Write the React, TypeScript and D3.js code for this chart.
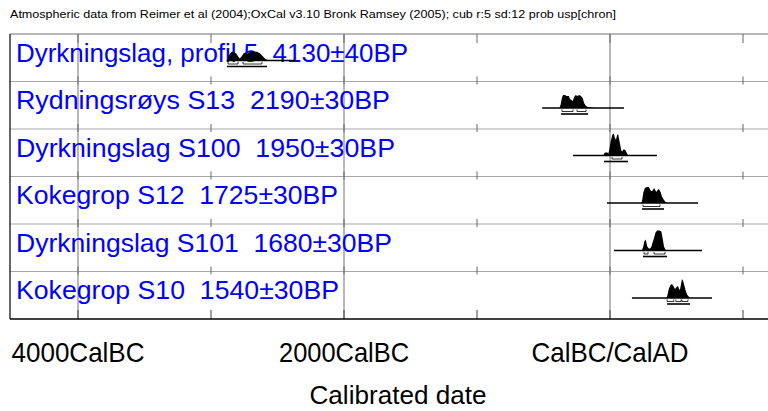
import React, { useEffect, useRef } from 'react';
import * as d3 from 'd3';

const title =
  'Atmospheric data from Reimer et al (2004);OxCal v3.10 Bronk Ramsey (2005); cub r:5 sd:12 prob usp[chron]';

const sampleLabels: string[] = [
  'Dyrkningslag, profil 5  4130±40BP',
  'Rydningsrøys S13  2190±30BP',
  'Dyrkningslag S100  1950±30BP',
  'Kokegrop S12  1725±30BP',
  'Dyrkningslag S101  1680±30BP',
  'Kokegrop S10  1540±30BP',
];

// plotted range of each sample (years, negative = BC)
const plotRanges: [number, number][] = [
  [-2880, -2370],
  [-510, 105],
  [-278, 353],
  [-23, 662],
  [30, 692],
  [165, 767],
];

// 68.2% ranges
const sigma1: [number, number][][] = [
  [[-2872, -2797], [-2759, -2617]],
  [[-361, -278], [-248, -180]],
  [[15, 90]],
  [[248, 376]],
  [[256, 286], [331, 414]],
  [[429, 480], [495, 535], [541, 586]],
];

// 95.4% ranges
const sigma2: [number, number][] = [
  [-2880, -2579],
  [-368, -165],
  [-45, 135],
  [241, 406],
  [248, 429],
  [429, 602],
];

// relative probability [year, prob]
const prob1: [number, number][] = [
  [-2885, 0], [-2872, 2], [-2862, 6], [-2850, 8], [-2838, 9], [-2824, 8], [-2810, 7],
  [-2796, 4], [-2784, 2], [-2770, 4], [-2756, 7], [-2742, 8], [-2728, 7], [-2714, 8],
  [-2700, 9], [-2686, 9], [-2672, 8], [-2658, 9], [-2644, 8], [-2630, 7], [-2616, 5],
  [-2602, 3], [-2590, 1.5], [-2575, 0.5], [-2560, 0],
];
const prob2: [number, number][] = [
  [-380, 0], [-372, 3], [-362, 10], [-353, 13], [-340, 13], [-325, 12], [-310, 12],
  [-300, 9], [-290, 8], [-280, 7], [-270, 11], [-258, 13], [-245, 12], [-232, 13],
  [-218, 12], [-205, 10], [-195, 5], [-180, 2], [-165, 1], [-140, 0.6], [-113, 0],
];
const prob3: [number, number][] = [
  [-50, 0], [-45, 2], [-35, 3], [-20, 3], [-12, 2], [-5, 6], [5, 14], [18, 21], [28, 22],
  [38, 17], [45, 16], [55, 21], [62, 21], [72, 14], [85, 5], [92, 4], [100, 6], [108, 6],
  [118, 5], [128, 2], [138, 0],
];
const prob4: [number, number][] = [
  [236, 0], [242, 3], [250, 10], [262, 15], [278, 16], [292, 16], [308, 12], [318, 12],
  [331, 15], [340, 13], [348, 11], [358, 13], [368, 14], [380, 11], [392, 6], [406, 3],
  [418, 1], [430, 0],
];
const prob5: [number, number][] = [
  [240, 0], [250, 4], [258, 9], [266, 11], [272, 9], [280, 4], [292, 2], [302, 2],
  [312, 4], [320, 8], [330, 12], [342, 18], [355, 20], [372, 20], [386, 19], [396, 12],
  [406, 4], [416, 1], [425, 0],
];
const prob6: [number, number][] = [
  [425, 0], [432, 3], [442, 9], [455, 13], [466, 14], [476, 12], [489, 9], [500, 11],
  [511, 12], [519, 9], [526, 8], [534, 14], [541, 19], [550, 17], [560, 12], [572, 6],
  [582, 3], [595, 1], [605, 0],
];
const probs = [prob1, prob2, prob3, prob4, prob5, prob6];

const tickYears: number[] = [-4000, -3000, -2000, -1000, 0, 1000];
const gridYears: number[] = [-4000, -2000, 0];
const gridLabels: string[] = ['4000CalBC', '2000CalBC', 'CalBC/CalAD'];
const axisTitle = 'Calibrated date';

const App = () => {
  const svgRef = useRef<SVGSVGElement>(null);
  const width = 768;
  const height = 411;

  useEffect(() => {
    const svg = d3.select(svgRef.current);
    svg.selectAll('*').remove();

    const left = 10;
    const top = 34;
    const bottom = 319;
    const right = 790;
    const rowH = (bottom - top) / sampleLabels.length;
    const font = 'Liberation Sans, Arial, sans-serif';

    const x = d3.scaleLinear().domain([-4000, 0]).range([78, 610]);
    const y = d3.scaleLinear().domain([0, 22]).range([0, 22]);

    // title
    svg.append('text')
      .attr('x', 10)
      .attr('y', 18)
      .attr('textLength', 606)
      .attr('lengthAdjust', 'spacingAndGlyphs')
      .style('font-family', font)
      .style('font-size', '11px')
      .attr('fill', '#000')
      .text(title);

    // row separators
    d3.range(1, sampleLabels.length).forEach(i => {
      svg.append('line')
        .attr('x1', left).attr('x2', right)
        .attr('y1', top + i * rowH).attr('y2', top + i * rowH)
        .attr('stroke', '#a8a8a8').attr('stroke-width', 1.2);
    });
    svg.append('line')
      .attr('x1', left).attr('x2', right)
      .attr('y1', top).attr('y2', top)
      .attr('stroke', '#a0a0a0').attr('stroke-width', 1.5);

    // full gridlines
    svg.selectAll('.grid')
      .data(gridYears)
      .enter()
      .append('line')
      .attr('class', 'grid')
      .attr('x1', d => x(d)).attr('x2', d => x(d))
      .attr('y1', top).attr('y2', bottom)
      .attr('stroke', '#8a8a8a').attr('stroke-width', 1.2);

    // short ticks
    tickYears.forEach(t => {
      const tx = x(t);
      svg.append('line')
        .attr('x1', tx).attr('x2', tx).attr('y1', top).attr('y2', top + 9)
        .attr('stroke', '#666').attr('stroke-width', 1);
      d3.range(1, sampleLabels.length).forEach(i => {
        const sy = top + i * rowH;
        svg.append('line')
          .attr('x1', tx).attr('x2', tx).attr('y1', sy - 5).attr('y2', sy + 3)
          .attr('stroke', '#666').attr('stroke-width', 1);
      });
      svg.append('line')
        .attr('x1', tx).attr('x2', tx).attr('y1', bottom - 9).attr('y2', bottom)
        .attr('stroke', '#444').attr('stroke-width', 1);
    });

    // frame left + bottom
    svg.append('line')
      .attr('x1', left).attr('x2', left).attr('y1', top).attr('y2', bottom)
      .attr('stroke', '#000').attr('stroke-width', 1.2);
    svg.append('line')
      .attr('x1', left).attr('x2', right).attr('y1', bottom).attr('y2', bottom)
      .attr('stroke', '#000').attr('stroke-width', 1.5);

    // rows
    const labelLengths = [392, 374, 379, 322, 376, 323];
    sampleLabels.forEach((label, i) => {
      const base = top + i * rowH + 26.5;

      svg.append('text')
        .attr('x', 16)
        .attr('y', base + 1)
        .attr('textLength', labelLengths[i])
        .attr('lengthAdjust', 'spacingAndGlyphs')
        .style('font-family', font)
        .style('font-size', '26px')
        .style('white-space', 'pre')
        .attr('fill', '#0000ff')
        .text(label);

      svg.append('line')
        .attr('x1', x(plotRanges[i][0])).attr('x2', x(plotRanges[i][1]))
        .attr('y1', base).attr('y2', base)
        .attr('stroke', '#000').attr('stroke-width', 1.3);

      const area = d3.area<[number, number]>()
        .x(d => x(d[0]))
        .y0(base)
        .y1(d => base - y(d[1]));
      svg.append('path')
        .datum(probs[i])
        .attr('d', area)
        .attr('fill', '#000');

      sigma1[i].forEach(r => {
        const x1 = x(r[0]);
        const x2 = x(r[1]);
        svg.append('path')
          .attr('d', `M${x1},${base + 1.5}V${base + 3.5}H${x2}V${base + 1.5}`)
          .attr('fill', 'none')
          .attr('stroke', '#000')
          .attr('stroke-width', 0.8);
      });

      svg.append('line')
        .attr('x1', x(sigma2[i][0])).attr('x2', x(sigma2[i][1]))
        .attr('y1', base + 6).attr('y2', base + 6)
        .attr('stroke', '#000').attr('stroke-width', 1.6);
    });

    // axis labels
    const labelWidths = [133, 130, 157];
    svg.selectAll('.tlabel')
      .data(gridYears)
      .enter()
      .append('text')
      .attr('class', 'tlabel')
      .attr('x', d => x(d))
      .attr('y', 362)
      .attr('text-anchor', 'middle')
      .attr('textLength', (d, i) => labelWidths[i])
      .attr('lengthAdjust', 'spacingAndGlyphs')
      .style('font-family', font)
      .style('font-size', '28px')
      .attr('fill', '#000')
      .text((d, i) => gridLabels[i]);

    svg.append('text')
      .attr('x', 398)
      .attr('y', 404)
      .attr('text-anchor', 'middle')
      .attr('textLength', 177)
      .attr('lengthAdjust', 'spacingAndGlyphs')
      .style('font-family', font)
      .style('font-size', '26px')
      .attr('fill', '#000')
      .text(axisTitle);
  }, []);

  return (
    <div style={{ position: 'absolute', left: 0, top: 0 }}>
      <svg ref={svgRef} width={width} height={height} style={{ display: 'block', background: '#fff' }}></svg>
    </div>
  );
};

export default App;
